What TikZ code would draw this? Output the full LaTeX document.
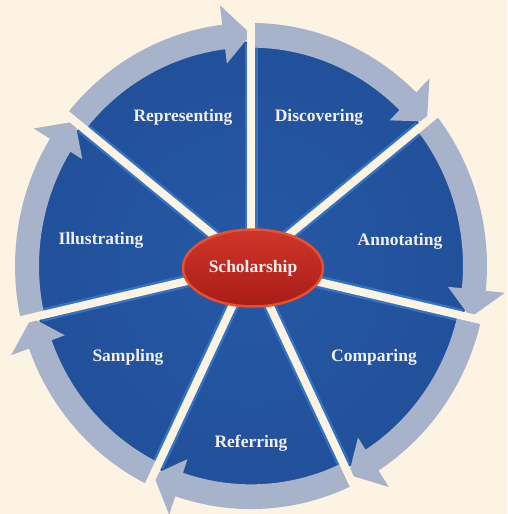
\documentclass[tikz,border=0pt]{standalone}
\usepackage{fontspec}
\setmainfont{Liberation Serif}
\usetikzlibrary{shapes.geometric}
\definecolor{bg}{HTML}{FCF3E3}
\definecolor{band}{HTML}{A7B3CA}
\definecolor{wedgein}{HTML}{2558A5}
\definecolor{wedgeout}{HTML}{1A3B7A}
\definecolor{bevel}{HTML}{3473C4}
\definecolor{redtop}{HTML}{D0352A}
\definecolor{redbot}{HTML}{A81D18}
\definecolor{redrim}{HTML}{E5502F}
\definecolor{labeltext}{HTML}{F1EFEC}
\pgfdeclareradialshading{wedgeshade}{\pgfpoint{0bp}{0bp}}{color(0bp)=(wedgein); color(30bp)=(wedgein!70!wedgeout); color(50bp)=(wedgeout)}
\begin{document}
\begin{tikzpicture}[x=1pt,y=-1pt,
  lbl/.style={text=labeltext, font=\fontsize{17.5}{20}\selectfont\bfseries, inner sep=0pt},
  bandfill/.style={fill=band},
  gapline/.style={draw=bg, line width=8pt},
  bevelline/.style={draw=bevel, line width=13pt},
  hub/.style={ellipse, draw=redrim, line width=2.5pt, top color=redtop, bottom color=redbot,
    minimum width=140pt, minimum height=77pt, inner sep=0pt, text=labeltext,
    font=\fontsize{17.5}{20}\selectfont\bfseries}
]
\fill[bg] (0,0) rectangle (507,514);
\useasboundingbox (0,0) rectangle (507,514);
\begin{scope}[shift={(251,266)}, yscale=-1.03]
  \shade[shading=wedgeshade] (0,0) circle[radius=218];
  \foreach \k in {0,...,6} {
    \draw[bevelline] (0,0) -- ({90-\k*360/7}:216);
  }
  \foreach \k in {0,...,6} {
    \pgfmathsetmacro\s{90-\k*360/7}
    \pgfmathsetmacro\e{\s-360/7}
    \pgfmathsetmacro\b{\e+7}
    \fill[bandfill] (\s:212) arc[start angle=\s, end angle=\b, radius=212]
      -- (\b:198) -- (\e:225) -- (\b:255) -- (\b:236)
      arc[start angle=\b, end angle=\s, radius=236] -- cycle;
  }
  \foreach \k in {0,...,6} {
    \draw[gapline] (0,0) -- ({90-\k*360/7}:262);
  }
\end{scope}
\node[hub] (hub) at (253,268) {Scholarship};
\node[lbl] (discovering) at (319,117) {Discovering};
\node[lbl] (annotating) at (400,241) {Annotating};
\node[lbl] (comparing) at (374,357) {Comparing};
\node[lbl] (referring) at (251,443) {Referring};
\node[lbl] (sampling) at (128,357) {Sampling};
\node[lbl] (illustrating) at (101,240) {Illustrating};
\node[lbl] (representing) at (183,117) {Representing};
\end{tikzpicture}
\end{document}
